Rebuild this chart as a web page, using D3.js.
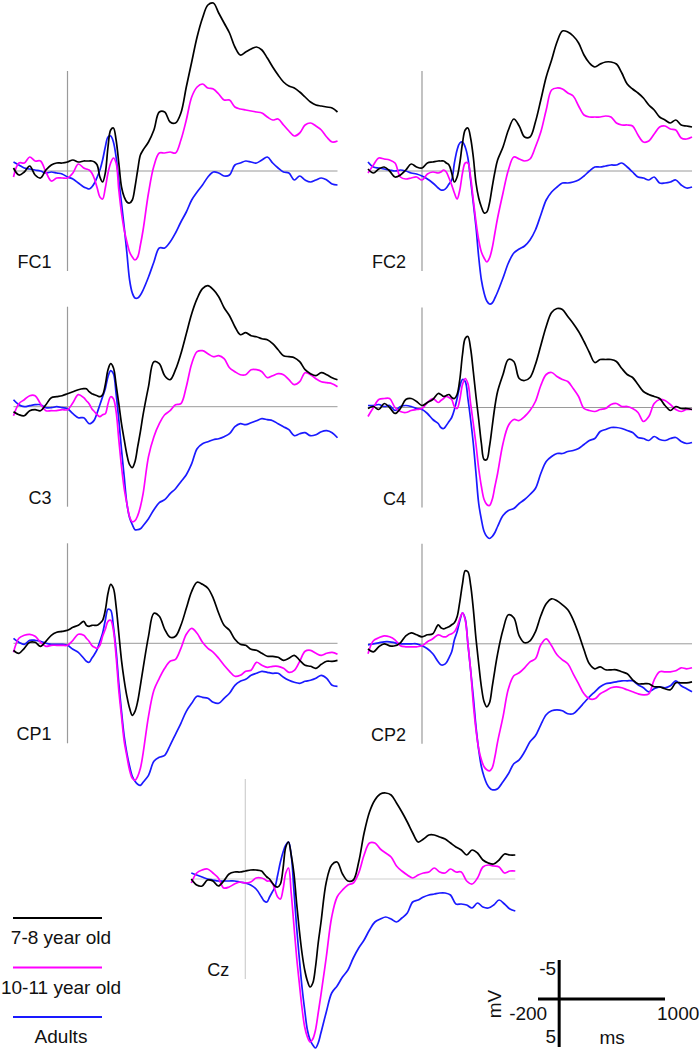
<!DOCTYPE html>
<html><head><meta charset="utf-8">
<script src="https://cdn.jsdelivr.net/npm/d3@7"></script>
<style>
body{margin:0;background:#fff}
svg{display:block}
text{font-family:Arial,"Liberation Sans",Helvetica,sans-serif;fill:#111}
</style>
</head><body>
<svg id="chart" width="700" height="1050"></svg>
<script>
// ---- data: time points (ms) shared by all waveforms ----
const times = [-200,-180,-160,-140,-120,-100,-80,-60,-40,-20,0,20,40,60,
70,80,90,100,110,120,130,140,150,160,170,180,190,200,210,220,230,240,250,260,270,
280,300,320,340,360,380,400,420,440,460,480,500,520,540,560,580,600,620,640,660,680,700,720,740,760,780,800,820,840,860,880,900,920,940,960,980,1000];

const groups = ["7-8 year old", "10-11 year old", "Adults"];
const electrodes = ["FC1", "FC2", "C3", "C4", "CP1", "CP2", "Cz"];

// amplitudes in microvolts (negative plotted up)
const FC1_g78 = [-0.3,0.4,0.1,-0.5,0.4,0.7,-0.1,-0.6,-0.8,-0.8,-0.9,-1.1,-0.9,-1.0,
-1.0,-1.0,-1.0,-0.9,-0.6,0.6,1.1,0.2,-2.4,-4.1,-4.3,-3.1,-0.8,1.6,2.6,3.1,3.2,2.9,1.6,-0.1,-1.6,
-2.1,-2.9,-4.1,-5.9,-5.9,-4.9,-4.8,-5.8,-8.4,-10.9,-13.4,-15.3,-16.6,-16.8,-15.8,-14.8,-13.8,-12.4,-11.6,-11.9,-12.2,-12.4,-12.1,-11.3,-10.4,-9.6,-8.9,-8.5,-8.3,-7.9,-7.4,-6.9,-6.6,-6.5,-6.4,-6.3,-5.9];
const FC1_g1011 = [0.6,-0.8,-0.8,-1.4,-1.0,-1.0,0.1,1.0,0.7,0.7,0.7,0.2,-0.7,-0.3,
-0.2,-0.1,0.2,0.8,1.7,2.6,2.8,1.7,0.2,-0.8,-1.3,-0.8,1.9,4.2,5.9,7.1,8.1,8.6,8.9,8.6,7.4,
5.9,2.2,-0.5,-1.8,-1.8,-1.9,-1.8,-3.1,-5.1,-7.4,-8.4,-8.7,-8.3,-8.2,-7.7,-7.1,-7.1,-6.4,-6.2,-6.1,-6.0,-5.9,-5.8,-5.4,-5.1,-5.2,-4.6,-4.0,-3.5,-3.8,-4.6,-4.8,-4.5,-4.1,-3.4,-2.9,-3.0];
const FC1_adult = [-0.9,-0.6,-0.3,-0.2,-0.1,0.0,0.2,0.1,0.2,0.3,0.6,0.8,1.2,1.6,
1.7,1.8,1.6,1.2,0.6,-0.1,-1.1,-2.4,-3.4,-3.5,-2.9,-1.4,0.9,3.2,5.6,8.2,10.9,12.2,12.7,12.7,12.4,
11.9,10.6,9.1,7.7,7.7,7.1,6.2,5.1,4.1,2.9,2.1,1.4,0.6,0.1,0.2,0.5,0.4,-0.6,-0.8,-1.0,-0.9,-0.8,-1.1,-1.4,-0.8,-0.3,0.1,0.2,0.9,0.5,0.9,1.1,0.9,0.7,0.9,1.3,1.4];

const FC2_g78 = [-0.2,0.2,-0.2,-0.4,0.0,0.6,0.4,-0.1,-0.7,-0.4,-0.3,-0.8,-0.9,-1.0,
-1.0,-1.0,-0.8,-0.6,0.2,1.1,0.6,-0.8,-2.8,-4.1,-4.3,-3.3,-1.4,1.2,2.7,3.6,4.2,4.1,3.2,1.6,0.1,
-1.1,-2.4,-4.1,-5.2,-4.5,-3.4,-3.4,-4.9,-7.1,-9.4,-11.1,-12.9,-14.0,-13.9,-13.5,-12.8,-11.6,-10.8,-10.4,-10.7,-10.9,-10.9,-10.7,-9.8,-8.7,-8.2,-7.8,-7.3,-6.6,-6.1,-5.4,-5.1,-4.8,-5.1,-4.6,-4.5,-4.4];
const FC2_g1011 = [0.2,-0.6,-1.3,-1.2,-1.1,-0.8,0.6,0.8,0.7,0.6,0.9,0.3,0.1,0.2,
0.1,-0.1,0.1,0.7,1.4,2.2,2.8,1.9,0.2,-0.8,-0.8,0.6,2.9,5.1,6.9,8.1,8.7,9.1,8.7,7.7,6.2,
4.7,2.2,-0.1,-1.4,-1.2,-1.0,-1.2,-2.4,-3.9,-6.1,-8.1,-8.3,-8.2,-7.8,-7.5,-6.5,-5.6,-5.4,-5.4,-5.4,-5.5,-5.4,-4.8,-4.6,-4.6,-4.5,-3.6,-2.9,-3.0,-3.7,-4.4,-4.5,-4.2,-4.1,-3.3,-3.2,-3.4];
const FC2_adult = [-0.9,-0.4,-0.3,-0.2,-0.1,0.0,-0.1,0.0,0.2,0.3,0.5,0.8,1.2,1.7,
1.9,1.9,1.7,1.3,0.9,-0.8,-2.1,-2.8,-2.9,-2.4,-1.3,0.9,3.2,5.6,8.6,10.9,12.2,13.0,13.3,13.2,12.7,
12.1,10.7,9.2,8.2,7.8,7.5,6.9,5.9,4.4,2.9,2.1,1.6,1.2,1.2,1.1,0.9,0.5,0.0,-0.4,-0.4,-0.5,-0.6,-0.6,-0.8,-0.4,0.1,0.6,0.7,0.9,0.6,1.2,1.2,1.1,0.9,1.4,1.7,1.6];

const C3_g78 = [0.5,0.8,0.9,0.4,0.3,0.4,-0.2,-0.9,-1.0,-1.1,-1.3,-1.5,-1.7,-1.8,
-1.8,-1.5,-1.3,-1.2,-1.1,-1.0,-1.2,-2.2,-3.7,-4.3,-3.9,-2.2,-0.3,1.7,3.3,4.8,5.8,6.1,5.5,4.0,2.5,
0.8,-2.0,-4.5,-4.3,-3.1,-2.7,-3.7,-5.3,-7.3,-9.3,-10.8,-11.8,-12.1,-11.7,-11.0,-9.9,-9.1,-8.0,-7.2,-7.4,-7.1,-7.0,-6.8,-6.7,-6.3,-5.7,-5.1,-5.0,-4.9,-4.5,-3.7,-3.3,-3.1,-3.4,-3.2,-2.9,-2.7];
const C3_g1011 = [0.9,-0.3,-0.7,-1.1,-1.1,-0.3,0.4,0.4,0.4,0.3,0.3,-0.4,-1.2,-0.9,
-0.6,-0.3,0.2,0.5,0.8,1.0,0.8,0.7,-0.3,-1.0,-0.8,0.5,3.3,6.0,8.2,9.7,11.0,11.5,11.4,10.9,10.0,
8.7,5.0,3.0,1.7,0.8,0.4,-0.2,-0.3,-2.0,-4.3,-5.5,-5.6,-5.3,-5.0,-5.1,-4.8,-3.9,-3.5,-3.2,-3.2,-3.7,-3.7,-3.5,-2.9,-3.1,-3.3,-3.2,-2.7,-2.2,-2.5,-3.4,-3.2,-2.8,-2.5,-2.4,-2.3,-2.0];
const C3_adult = [-0.7,-0.2,0.0,-0.1,-0.2,-0.2,0.1,0.1,0.0,0.1,0.2,0.7,1.1,1.1,
1.4,1.7,1.6,1.3,0.6,-0.2,-1.0,-1.8,-3.0,-3.6,-3.3,-1.3,1.3,4.3,7.0,9.7,11.1,11.8,12.3,12.3,12.2,
11.9,11.2,10.3,9.6,9.3,8.7,8.2,7.5,6.8,5.7,4.2,3.7,3.5,3.3,3.2,3.0,2.7,2.0,1.7,1.8,1.6,1.4,1.2,1.3,1.4,1.7,2.0,2.3,2.9,2.7,2.6,2.9,2.8,2.5,2.4,2.6,3.1];

const C4_g78 = [0.1,-0.1,0.2,-0.4,0.0,0.6,0.1,-0.8,-0.9,-0.6,-0.2,-0.5,-0.8,-1.4,
-1.3,-1.1,-1.2,-1.3,-1.0,-0.9,-1.3,-2.8,-5.3,-6.9,-7.1,-5.9,-3.6,-1.1,1.2,3.6,5.2,5.2,3.9,1.9,-0.1,
-1.6,-3.3,-4.8,-4.6,-2.9,-2.7,-3.0,-4.3,-6.2,-8.1,-9.5,-9.9,-9.8,-9.1,-8.4,-7.6,-6.6,-5.5,-4.5,-4.8,-4.8,-4.8,-4.6,-3.9,-3.3,-3.0,-2.3,-1.6,-1.3,-1.1,-0.9,-0.2,0.3,-0.1,0.1,0.1,0.2];
const C4_g1011 = [0.9,0.0,-0.8,-0.9,-0.9,0.0,0.4,0.5,0.3,0.2,0.1,-0.5,-0.9,-0.5,
-0.7,-0.9,-1.1,-1.0,-0.8,-0.1,0.1,-0.8,-2.3,-2.9,-2.4,-0.4,1.6,3.7,6.1,7.9,9.2,9.7,9.8,9.2,7.9,
6.6,3.6,1.8,1.2,1.3,0.9,0.3,-0.6,-2.2,-3.3,-3.5,-3.1,-2.8,-2.6,-1.9,-1.1,0.1,0.3,0.4,0.2,0.1,-0.3,-0.4,-0.1,-0.1,0.1,0.5,1.4,0.9,-0.4,-0.8,-0.7,-0.3,0.2,0.4,0.2,0.2];
const C4_adult = [-0.2,-0.2,-0.3,-0.1,-0.2,0.3,-0.1,-0.2,-0.1,0.1,0.2,0.6,1.2,1.6,
2.0,2.1,1.8,1.4,1.0,0.2,-0.9,-2.1,-2.8,-2.6,-0.9,1.2,3.6,6.6,9.6,11.2,12.4,12.9,13.1,12.9,12.5,
11.9,10.8,10.3,10.1,9.6,9.2,8.7,8.1,6.6,5.4,4.9,4.6,4.6,4.4,4.3,4.1,3.7,3.3,3.1,2.4,2.2,2.0,2.0,2.1,2.3,2.5,3.0,3.1,3.3,2.9,3.2,3.3,3.1,3.0,3.4,3.6,3.5];

const CP1_g78 = [0.7,1.0,0.5,-0.1,-0.1,0.3,-0.2,-0.8,-1.1,-1.2,-1.3,-1.6,-1.8,-2.2,
-1.8,-1.7,-1.8,-1.8,-1.8,-2.0,-2.3,-3.3,-5.0,-5.9,-5.5,-3.7,-1.0,1.7,3.7,5.3,6.5,7.2,6.8,5.8,4.2,
2.5,-0.7,-3.0,-2.7,-1.4,-0.6,-0.7,-1.8,-3.5,-5.2,-6.1,-5.9,-5.5,-4.5,-3.0,-1.8,-1.3,-0.4,0.1,0.2,0.6,0.7,1.0,1.3,1.3,1.4,1.7,1.5,1.2,1.7,2.2,2.3,2.5,2.1,1.8,1.8,1.7];
const CP1_g1011 = [0.9,-0.5,-0.8,-0.9,-0.7,-0.1,0.3,0.2,0.2,0.2,0.2,-0.3,-0.9,-0.8,
-0.5,-0.2,0.2,0.4,0.5,0.2,-0.7,-1.4,-2.2,-2.3,-1.3,1.3,4.7,7.3,9.8,11.3,12.7,13.5,13.7,13.3,12.5,
11.0,7.3,4.7,3.5,2.5,1.8,1.6,0.5,-0.9,-1.5,-1.0,-0.1,0.5,0.9,1.5,2.2,2.8,3.3,3.2,2.8,2.7,1.9,2.2,2.4,2.3,2.3,2.5,2.9,2.7,1.8,0.8,0.7,1.0,1.2,1.0,0.9,1.1];
const CP1_adult = [-0.5,-0.1,0.1,-0.3,-0.3,-0.2,0.0,0.1,0.1,0.1,0.2,0.6,0.9,1.5,
1.8,1.9,1.5,1.1,0.6,-0.2,-1.0,-2.3,-3.4,-3.3,-1.7,0.7,4.0,6.8,9.3,11.0,12.3,13.3,13.8,14.1,14.2,
13.9,13.2,11.8,11.4,11.2,10.2,9.1,8.0,6.8,6.0,5.3,5.4,5.5,5.9,6.0,5.5,5.0,4.2,3.8,3.6,3.2,3.0,2.8,2.9,3.0,3.0,3.4,3.7,3.9,4.0,3.8,3.7,3.5,3.2,3.5,4.2,4.3];

const CP2_g78 = [0.5,0.8,0.3,0.0,0.2,0.2,-0.1,-0.8,-1.1,-0.9,-0.7,-0.9,-1.0,-1.9,
-1.6,-1.5,-1.6,-1.7,-1.9,-2.1,-2.7,-4.2,-6.0,-7.3,-7.2,-5.9,-3.5,-0.5,2.0,4.3,5.8,6.3,5.9,4.3,2.6,
1.0,-1.4,-2.9,-2.6,-0.8,-0.1,-0.3,-1.2,-2.8,-4.0,-4.5,-4.3,-3.9,-3.4,-2.4,-1.0,0.6,2.0,2.5,2.3,2.6,2.6,2.6,2.8,3.0,3.6,4.0,4.0,4.0,4.3,4.3,4.5,4.6,3.9,3.9,3.9,3.8];
const CP2_g1011 = [1.0,-0.3,-0.6,-0.8,-0.7,-0.4,0.2,0.3,0.3,0.3,0.2,-0.2,-0.5,-0.9,
-0.8,-0.7,-0.7,-0.9,-1.0,-1.2,-1.7,-2.5,-3.1,-2.4,0.0,2.6,6.0,8.6,10.5,11.6,12.3,12.6,12.7,12.4,11.3,
9.8,7.3,4.5,3.2,2.9,2.4,1.8,1.5,0.1,-0.5,0.2,1.1,1.6,2.0,3.0,4.0,5.0,5.5,5.5,5.0,4.7,4.4,4.3,4.4,4.6,4.8,5.0,5.1,5.0,3.6,2.8,2.8,2.8,2.7,2.4,2.5,2.4];
const CP2_adult = [0.1,0.0,-0.1,-0.2,-0.2,-0.1,0.0,0.0,0.0,0.0,0.2,0.5,1.0,1.8,
2.1,2.1,1.9,1.4,0.8,-0.4,-1.2,-2.3,-3.1,-2.5,0.0,2.6,5.3,8.3,10.6,12.3,13.3,14.0,14.4,14.6,14.6,
14.5,13.8,13.0,12.0,11.6,10.8,9.8,9.2,8.1,7.1,6.7,6.6,6.7,7.0,7.0,6.5,5.9,5.3,4.8,4.3,4.0,3.9,3.8,3.7,3.7,3.7,4.1,4.4,4.8,4.5,4.3,4.4,4.2,3.7,4.2,4.5,4.8];

const Cz_g78 = [0.0,0.6,0.7,0.1,0.2,0.7,0.2,-0.5,-0.7,-0.7,-0.8,-0.9,-0.9,-0.8,
-0.5,-0.2,0.0,0.4,0.7,0.8,0.5,-1.1,-3.2,-3.7,-2.4,-0.6,2.4,5.1,7.4,9.1,10.2,10.8,10.4,8.8,6.4,
4.4,0.3,-1.4,-1.7,-0.5,0.2,0.1,-1.7,-4.6,-6.7,-7.9,-8.5,-8.6,-8.4,-7.6,-6.7,-5.7,-4.6,-3.7,-4.0,-4.4,-4.4,-4.2,-4.0,-3.6,-3.2,-2.9,-2.4,-2.9,-2.6,-1.9,-1.6,-1.5,-1.9,-2.5,-2.4,-2.4];
const Cz_g1011 = [0.4,-0.6,-0.9,-1.0,-0.6,-0.1,0.9,0.8,0.5,0.3,0.4,0.3,-0.1,-0.1,
0.0,0.2,0.2,0.4,1.1,1.8,2.0,1.0,-0.6,-1.1,1.4,4.6,7.8,10.4,12.9,14.8,15.8,16.3,16.0,15.1,13.4,
11.6,7.8,3.8,1.8,1.1,0.6,0.4,-0.6,-2.4,-3.6,-3.6,-3.0,-2.6,-2.2,-1.3,-0.8,-0.4,-0.1,-0.4,-0.6,-0.7,-1.1,-0.7,-0.6,-1.0,-0.7,-0.7,0.2,0.5,-0.1,-1.2,-1.4,-1.3,-1.2,-0.6,-0.8,-0.8];
const Cz_adult = [-0.6,-0.4,-0.2,0.0,0.1,0.2,0.2,0.2,0.2,0.3,0.4,0.6,1.0,1.8,
2.2,2.3,1.8,1.3,0.8,-0.4,-1.7,-2.7,-3.4,-3.7,-2.4,1.1,4.8,7.9,10.8,13.1,15.1,16.1,16.6,16.9,16.4,
15.4,13.3,11.4,10.7,9.8,9.1,7.9,6.9,6.1,5.1,4.3,4.0,3.8,4.0,4.3,3.9,3.4,2.3,2.1,1.8,1.6,1.5,1.4,1.4,1.6,2.5,2.5,2.6,2.9,2.4,2.8,2.9,2.6,2.1,2.5,3.0,3.2];

const waveData = {
  FC1: [FC1_g78, FC1_g1011, FC1_adult],
  FC2: [FC2_g78, FC2_g1011, FC2_adult],
  C3:  [C3_g78,  C3_g1011,  C3_adult],
  C4:  [C4_g78,  C4_g1011,  C4_adult],
  CP1: [CP1_g78, CP1_g1011, CP1_adult],
  CP2: [CP2_g78, CP2_g1011, CP2_adult],
  Cz:  [Cz_g78,  Cz_g1011,  Cz_adult]
};

// scale bar labels
const scaleMs = [-200, 1000];
const scaleUv = [-5, 5];

// ---- layout / styles (kept apart from data) ----
const colors = ["#000000", "#ff00ff", "#1a1aff"];
const panelPos = {
  FC1: {ax: 67.5, base: 171},
  FC2: {ax: 422,  base: 171},
  C3:  {ax: 67.5, base: 406.7},
  C4:  {ax: 422,  base: 407.5},
  CP1: {ax: 67.5, base: 643.3},
  CP2: {ax: 422,  base: 643.8},
  Cz:  {ax: 245.3, base: 879}
};
const pxPerMs = 0.27, pxPerUv = 10;

const svg = d3.select("#chart");
svg.append("rect").attr("width", 700).attr("height", 1050).attr("fill", "#fff");

electrodes.forEach(name => {
  const p = panelPos[name];
  const x = d3.scaleLinear().domain([-200, 1000]).range([p.ax - 200 * pxPerMs, p.ax + 1000 * pxPerMs]);
  const y = d3.scaleLinear().domain([-20, 20]).range([p.base - 20 * pxPerUv, p.base + 20 * pxPerUv]);
  const g = svg.append("g").attr("class", "panel");
  const axisCol = name === "Cz" ? "#cfcfcf" : "#9a9a9a";

  // zero line
  g.append("line")
    .attr("x1", x(-200)).attr("x2", x(1000))
    .attr("y1", y(0)).attr("y2", y(0))
    .attr("stroke", axisCol).attr("stroke-width", 1);
  // stimulus onset line
  g.append("line")
    .attr("x1", x(0)).attr("x2", x(0))
    .attr("y1", y(-10)).attr("y2", y(10))
    .attr("stroke", axisCol).attr("stroke-width", 1.2);

  const line = d3.line()
    .x((d, i) => x(times[i]))
    .y(d => y(d))
    .curve(d3.curveCatmullRom.alpha(0.5));

  // draw adults first, then 10-11, then 7-8 on top
  [2, 1, 0].forEach(k => {
    const vals = waveData[name][k].slice(0, times.length);
    g.append("path")
      .datum(vals)
      .attr("d", line)
      .attr("fill", "none")
      .attr("stroke", colors[k])
      .attr("stroke-width", 1.7)
      .attr("stroke-linejoin", "round");
  });

  g.append("text")
    .attr("x", p.ax - 16).attr("y", p.base + 97)
    .attr("text-anchor", "end")
    .attr("font-size", 18)
    .text(name);
});

// ---- legend ----
const legendY = d3.scalePoint().domain(groups).range([918, 1017]);
const legend = svg.append("g");
groups.forEach((gname, k) => {
  legend.append("line")
    .attr("x1", 13).attr("x2", 102)
    .attr("y1", legendY(gname)).attr("y2", legendY(gname))
    .attr("stroke", colors[k]).attr("stroke-width", 2);
  legend.append("text")
    .attr("x", 61).attr("y", legendY(gname) + 26)
    .attr("text-anchor", "middle")
    .attr("font-size", 19)
    .text(gname);
});

// ---- scale bar ----
const sbX = d3.scaleLinear().domain(scaleMs).range([538, 665]);
const sbY = d3.scaleLinear().domain(scaleUv).range([960, 1047]);
const sb = svg.append("g");
const sbZeroY = 999;
sb.append("line").attr("x1", sbX(scaleMs[0])).attr("x2", sbX(scaleMs[1]))
  .attr("y1", sbZeroY).attr("y2", sbZeroY).attr("stroke", "#000").attr("stroke-width", 3);
sb.append("line").attr("x1", sbX(0)).attr("x2", sbX(0))
  .attr("y1", sbY(scaleUv[0])).attr("y2", sbY(scaleUv[1])).attr("stroke", "#000").attr("stroke-width", 3);
sb.append("text").attr("x", sbX(0) - 3).attr("y", sbY(scaleUv[0]) + 15)
  .attr("text-anchor", "end").attr("font-size", 19).text(scaleUv[0]);
sb.append("text").attr("x", sbX(0) - 3).attr("y", sbY(scaleUv[1]) - 4)
  .attr("text-anchor", "end").attr("font-size", 19).text(scaleUv[1]);
sb.append("text").attr("x", sbX(0) - 12).attr("y", sbZeroY + 21)
  .attr("text-anchor", "end").attr("font-size", 19).text(scaleMs[0]);
sb.append("text").attr("x", sbX(scaleMs[1]) - 8).attr("y", sbZeroY + 21)
  .attr("text-anchor", "start").attr("font-size", 19).text(scaleMs[1]);
sb.append("text").attr("x", (sbX(0) + sbX(scaleMs[1])) / 2).attr("y", sbZeroY + 45)
  .attr("text-anchor", "middle").attr("font-size", 19).text("ms");
sb.append("text")
  .attr("transform", `translate(${sbX(0) - 58},${sbZeroY + 5}) rotate(-90)`)
  .attr("text-anchor", "middle").attr("font-size", 19).text("mV");
</script>
</body></html>
